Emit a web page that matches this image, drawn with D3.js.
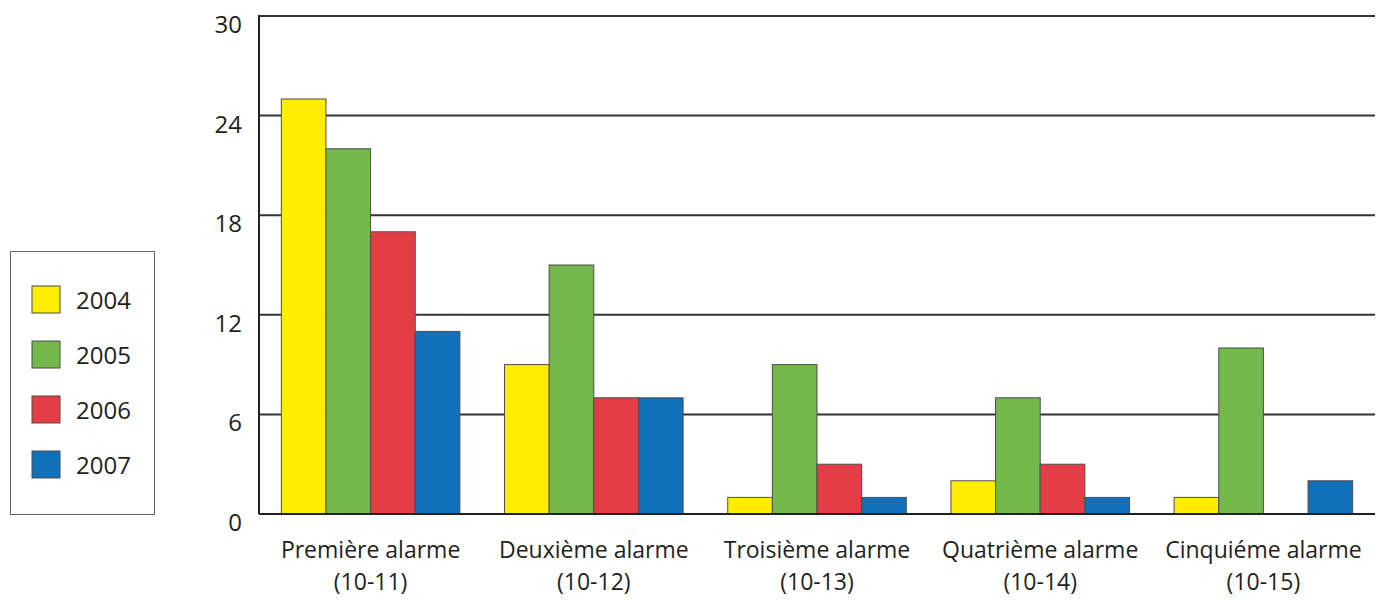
<!DOCTYPE html>
<html>
<head>
<meta charset="utf-8">
<script src="https://cdn.jsdelivr.net/npm/d3@7"></script>
<style>
  body { margin: 0; background: #fff; }
  text { font-family: "Open Sans", sans-serif; fill: #231f20; }
</style>
</head>
<body>
<div id="chart"></div>
<script>
// DATA
var categories = ["Première alarme|(10-11)", "Deuxième alarme|(10-12)", "Troisième alarme|(10-13)", "Quatrième alarme|(10-14)", "Cinquiéme alarme|(10-15)"];
var years = ["2004", "2005", "2006", "2007"];
var values2004 = [25, 9, 1, 2, 1];
var values2005 = [22, 15, 9, 7, 10];
var values2006 = [17, 7, 3, 3, 0];
var values2007 = [11, 7, 1, 1, 2];
var yTicks = [0, 6, 12, 18, 24, 30];
var colors = ["#ffed00", "#72b84b", "#e33d45", "#1071ba"];

var series = [values2004, values2005, values2006, values2007];

// SIZES
var w = 1386, h = 600;
var plotLeft = 259, plotRight = 1375, plotTop = 16, plotBottom = 514;

var svg = d3.select("#chart")
  .append("svg")
  .attr("width", w)
  .attr("height", h);

var x0 = d3.scaleBand()
  .domain(d3.range(categories.length))
  .range([plotLeft, plotRight])
  .paddingInner(0.2)
  .paddingOuter(0.1);

var x1 = d3.scaleBand()
  .domain(d3.range(years.length))
  .range([0, x0.bandwidth()]);

var y = d3.scaleLinear()
  .domain([0, 30])
  .range([plotBottom, plotTop]);

// gridlines
svg.append("g")
  .selectAll("line")
  .data(yTicks.filter(function(d) { return d > 0; }))
  .enter()
  .append("line")
  .attr("x1", plotLeft)
  .attr("x2", plotRight)
  .attr("y1", function(d) { return y(d); })
  .attr("y2", function(d) { return y(d); })
  .attr("stroke", "#333")
  .attr("stroke-width", 2);

// y tick labels
svg.append("g")
  .selectAll("text")
  .data(yTicks)
  .enter()
  .append("text")
  .attr("x", 242)
  .attr("y", function(d) { return y(d) + 17; })
  .attr("text-anchor", "end")
  .style("font-size", "24px")
  .text(function(d) { return d; });

// bars
var groups = svg.append("g")
  .selectAll("g")
  .data(categories)
  .enter()
  .append("g")
  .attr("transform", function(d, i) { return "translate(" + x0(i) + ",0)"; });

groups.selectAll("rect")
  .data(function(d, i) {
    return series.map(function(s, j) { return { v: s[i], j: j }; });
  })
  .enter()
  .append("rect")
  .filter(function(d) { return d.v > 0; })
  .attr("x", function(d) { return x1(d.j); })
  .attr("width", x1.bandwidth())
  .attr("y", function(d) { return y(d.v); })
  .attr("height", function(d) { return y(0) - y(d.v); })
  .attr("fill", function(d) { return colors[d.j]; })
  .attr("stroke", "#4d4d4d")
  .attr("stroke-width", 1);

// axis lines
svg.append("line")
  .attr("x1", plotLeft).attr("x2", plotLeft)
  .attr("y1", plotTop - 1).attr("y2", plotBottom)
  .attr("stroke", "#222").attr("stroke-width", 2);
svg.append("line")
  .attr("x1", plotLeft).attr("x2", plotRight)
  .attr("y1", plotBottom).attr("y2", plotBottom)
  .attr("stroke", "#222").attr("stroke-width", 2);

// category labels
var catLabels = svg.append("g")
  .selectAll("text")
  .data(categories)
  .enter()
  .append("text")
  .attr("text-anchor", "middle")
  .attr("transform", function(d, i) { return "translate(" + (x0(i) + x0.bandwidth() / 2) + ",0)"; })
  .style("font-size", "23px");

catLabels.append("tspan")
  .attr("x", 0).attr("y", 558)
  .text(function(d) { return d.split("|")[0]; });
catLabels.append("tspan")
  .attr("x", 0).attr("y", 590)
  .text(function(d) { return d.split("|")[1]; });

// legend
var legend = svg.append("g");
legend.append("rect")
  .attr("x", 10.5).attr("y", 251.5)
  .attr("width", 144).attr("height", 263)
  .attr("fill", "none")
  .attr("stroke", "#666")
  .attr("stroke-width", 1);

var items = legend.selectAll("g")
  .data(years)
  .enter()
  .append("g")
  .attr("transform", function(d, i) { return "translate(32," + (286 + i * 55) + ")"; });

items.append("rect")
  .attr("width", 28).attr("height", 27)
  .attr("fill", function(d, i) { return colors[i]; })
  .attr("stroke", "#4d4d4d")
  .attr("stroke-width", 1);

items.append("text")
  .attr("x", 44).attr("y", 23)
  .style("font-size", "24px")
  .text(function(d) { return d; });
</script>
</body>
</html>
